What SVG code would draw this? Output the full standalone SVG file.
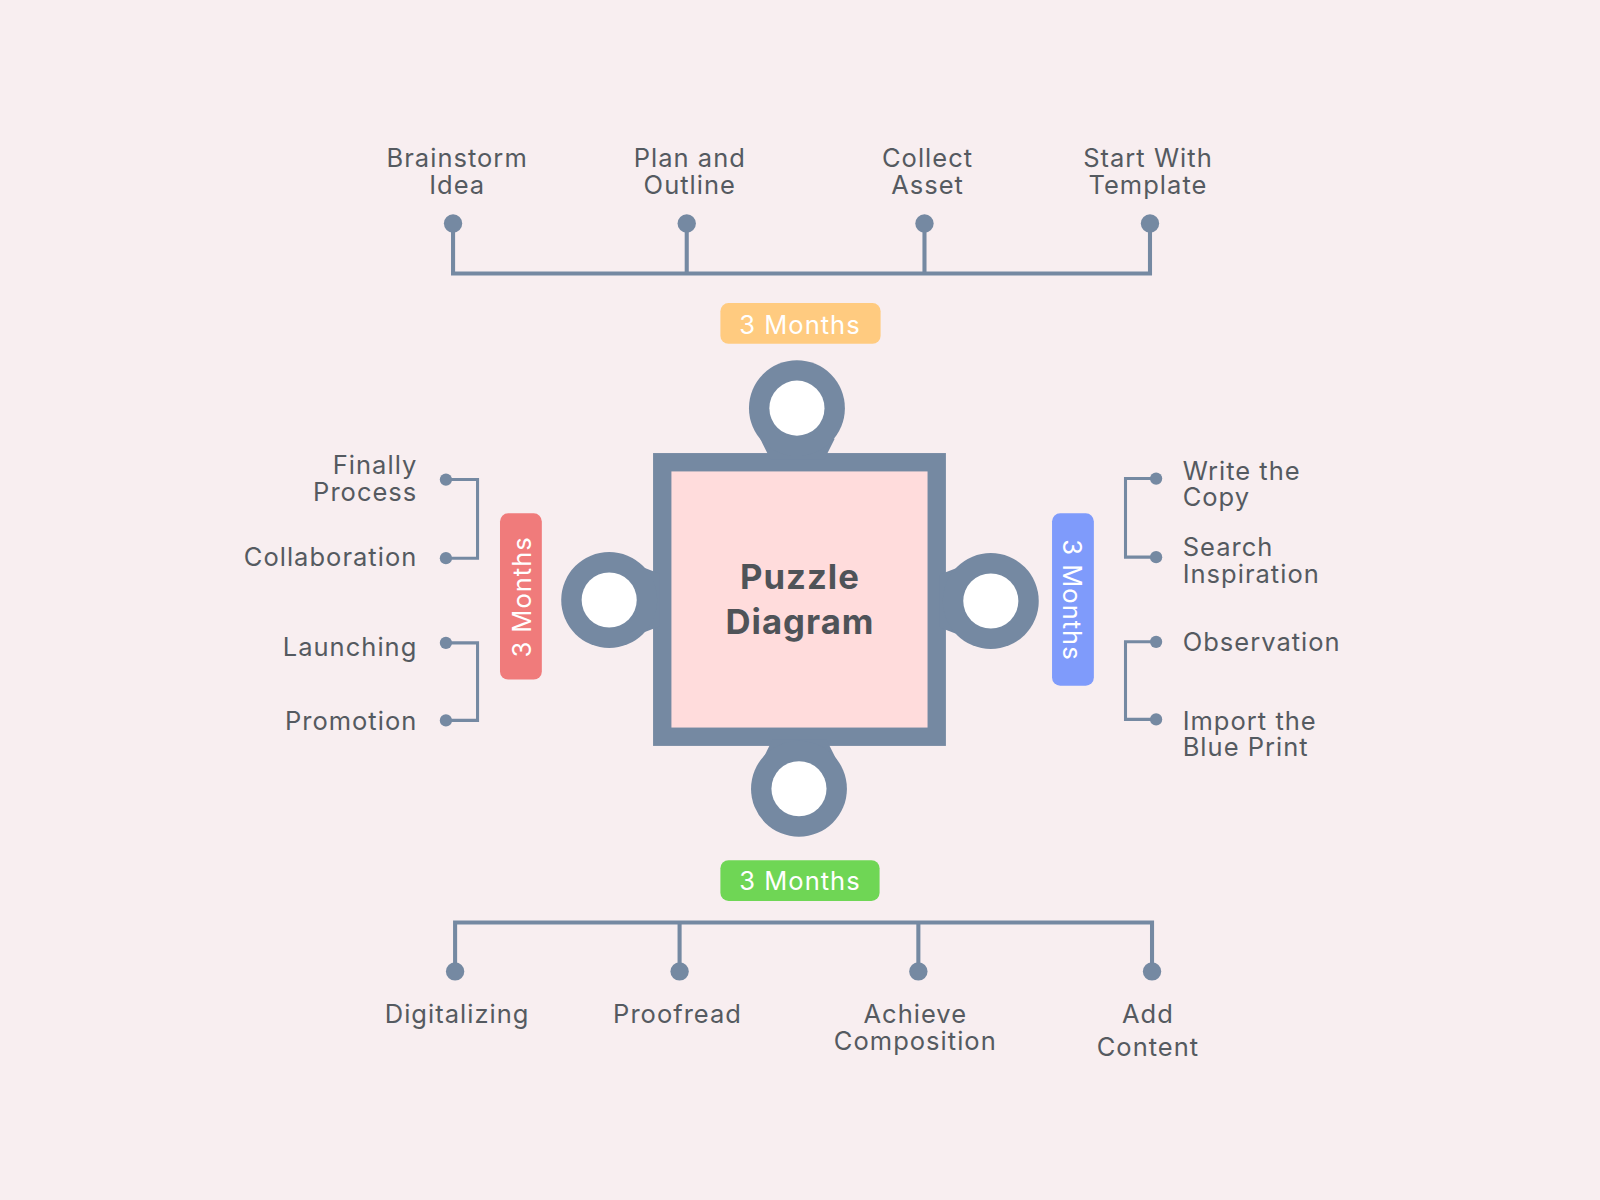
<svg xmlns="http://www.w3.org/2000/svg" width="1600" height="1200" viewBox="0 0 1600 1200">
<style>
.t{font-family:Inter,"Liberation Sans",sans-serif;font-size:25px;fill:#555a60;letter-spacing:1px}
.c{stroke:#7589A2;stroke-width:4;fill:none}
.d{fill:#7589A2}
.p{font-family:Inter,"Liberation Sans",sans-serif;font-size:25px;fill:#fff;letter-spacing:1px}
</style>
<rect width="1600" height="1200" fill="#F8EEF0"/>
<g transform="scale(1.0204)">
<g id="puzzle">
<rect x="640" y="444" width="287" height="287" fill="#7589A2"/>
<path d="M755 450 L808 450 L818 430 L745 430 Z" fill="#7589A2"/>
<circle cx="781" cy="400" r="47" fill="#7589A2"/>
<circle cx="781" cy="400" r="27" fill="#fff"/>
<path d="M646 562 L646 614 L630 620 L630 556 Z" fill="#7589A2"/>
<circle cx="597" cy="588" r="47" fill="#7589A2"/>
<circle cx="597" cy="588" r="27" fill="#fff"/>
<path d="M921 563 L921 615 L937 621 L937 557 Z" fill="#7589A2"/>
<circle cx="971" cy="589" r="47" fill="#7589A2"/>
<circle cx="971" cy="589" r="27" fill="#fff"/>
<path d="M757 725 L810 725 L820 745 L747 745 Z" fill="#7589A2"/>
<circle cx="783" cy="773" r="47" fill="#7589A2"/>
<circle cx="783" cy="773" r="27" fill="#fff"/>
<rect x="658" y="462" width="251" height="251" fill="#FFDCDC"/>
<text x="784" y="577" text-anchor="middle" font-family="Inter,'Liberation Sans',sans-serif" font-weight="bold" font-size="34" fill="#4f5358" letter-spacing="1">Puzzle</text>
<text x="784" y="621" text-anchor="middle" font-family="Inter,'Liberation Sans',sans-serif" font-weight="bold" font-size="34" fill="#4f5358" letter-spacing="1">Diagram</text>
</g>
<g id="labels">
<rect x="706" y="297" width="157" height="40" rx="8" fill="#FFCB80"/>
<text class="p" x="784" y="327" text-anchor="middle">3 Months</text>
<rect x="706" y="843" width="156" height="40" rx="8" fill="#6FD655"/>
<text class="p" x="784" y="872" text-anchor="middle">3 Months</text>
<rect x="490" y="503" width="41" height="163" rx="8" fill="#F07B7B"/>
<text class="p" transform="translate(520,585) rotate(-90)" text-anchor="middle">3 Months</text>
<rect x="1031" y="503" width="41" height="169" rx="8" fill="#7F9BFB"/>
<text class="p" transform="translate(1042,588) rotate(90)" text-anchor="middle">3 Months</text>
</g>
<g id="connectors">
<path class="c" d="M444 219V268H1127V219M673 219V268M906 219V268"/>
<circle class="d" cx="444" cy="219" r="9"/><circle class="d" cx="673" cy="219" r="9"/><circle class="d" cx="906" cy="219" r="9"/><circle class="d" cx="1127" cy="219" r="9"/>
<path class="c" d="M446 952V904H1129V952M666 904V952M900 904V952"/>
<circle class="d" cx="446" cy="952" r="9"/><circle class="d" cx="666" cy="952" r="9"/><circle class="d" cx="900" cy="952" r="9"/><circle class="d" cx="1129" cy="952" r="9"/>
<path class="c" style="stroke-width:3" d="M437 470H468V547H437M437 630H468V706H437M1133 469H1103V546H1133M1133 629H1103V705H1133"/>
<circle class="d" cx="437" cy="470" r="6"/><circle class="d" cx="437" cy="547" r="6"/><circle class="d" cx="437" cy="630" r="6"/><circle class="d" cx="437" cy="706" r="6"/>
<circle class="d" cx="1133" cy="469" r="6"/><circle class="d" cx="1133" cy="546" r="6"/><circle class="d" cx="1133" cy="629" r="6"/><circle class="d" cx="1133" cy="705" r="6"/>
</g>
<g id="top-text" text-anchor="middle">
<text class="t" x="448" y="164">Brainstorm</text><text class="t" x="448" y="190">Idea</text>
<text class="t" x="676" y="164">Plan and</text><text class="t" x="676" y="190">Outline</text>
<text class="t" x="909" y="164">Collect</text><text class="t" x="909" y="190">Asset</text>
<text class="t" x="1125" y="164">Start With</text><text class="t" x="1125" y="190">Template</text>
</g>
<g id="bottom-text" text-anchor="middle">
<text class="t" x="448" y="1003">Digitalizing</text>
<text class="t" x="664" y="1003">Proofread</text>
<text class="t" x="897" y="1003">Achieve</text><text class="t" x="897" y="1029">Composition</text>
<text class="t" x="1125" y="1003">Add</text><text class="t" x="1125" y="1035">Content</text>
</g>
<g id="left-text" text-anchor="end">
<text class="t" x="409" y="465">Finally</text><text class="t" x="409" y="491">Process</text>
<text class="t" x="409" y="555">Collaboration</text>
<text class="t" x="409" y="643">Launching</text>
<text class="t" x="409" y="715">Promotion</text>
</g>
<g id="right-text">
<text class="t" x="1159" y="470">Write the</text><text class="t" x="1159" y="496">Copy</text>
<text class="t" x="1159" y="545">Search</text><text class="t" x="1159" y="571">Inspiration</text>
<text class="t" x="1159" y="638">Observation</text>
<text class="t" x="1159" y="715">Import the</text><text class="t" x="1159" y="741">Blue Print</text>
</g>
</g>
</svg>
